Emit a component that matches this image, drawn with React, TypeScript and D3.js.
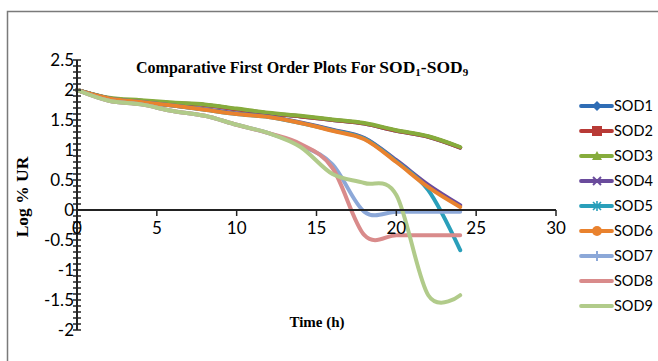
import React from "react";
import * as d3 from "d3";

const times = [0, 2, 4, 6, 8, 10, 12, 14, 16, 18, 20, 22, 24];
const seriesNames = ["SOD1", "SOD2", "SOD3", "SOD4", "SOD5", "SOD6", "SOD7", "SOD8", "SOD9"];
const sod1 = [2.0, 1.86, 1.82, 1.78, 1.75, 1.68, 1.61, 1.56, 1.5, 1.44, 1.32, 1.22, 1.04];
const sod2 = [2.0, 1.86, 1.82, 1.78, 1.75, 1.68, 1.61, 1.56, 1.5, 1.44, 1.32, 1.22, 1.04];
const sod3 = [2.0, 1.87, 1.83, 1.79, 1.76, 1.69, 1.62, 1.57, 1.51, 1.45, 1.33, 1.23, 1.05];
const sod4 = [2.0, 1.86, 1.8, 1.74, 1.68, 1.61, 1.56, 1.46, 1.34, 1.2, 0.83, 0.42, 0.08];
const sod5 = [2.0, 1.86, 1.8, 1.74, 1.67, 1.6, 1.55, 1.45, 1.33, 1.19, 0.81, 0.33, -0.67];
const sod6 = [2.0, 1.86, 1.8, 1.74, 1.67, 1.6, 1.55, 1.45, 1.32, 1.18, 0.8, 0.38, 0.05];
const sod7 = [2.0, 1.82, 1.76, 1.65, 1.57, 1.42, 1.28, 1.08, 0.76, -0.03, -0.03, -0.03, -0.03];
const sod8 = [2.0, 1.82, 1.76, 1.65, 1.57, 1.42, 1.28, 1.1, 0.7, -0.42, -0.42, -0.42, -0.42];
const sod9 = [2.0, 1.82, 1.76, 1.65, 1.57, 1.42, 1.28, 1.05, 0.6, 0.45, 0.25, -1.42, -1.42];
const seriesValues = [sod1, sod2, sod3, sod4, sod5, sod6, sod7, sod8, sod9];
const colors = ["#2F6DB5", "#B83A36", "#86AC3C", "#6A4B9C", "#2A9FBA", "#E9822E", "#8CA8D8", "#D98B8B", "#B1CB8A"];
const markers = ["diamond", "square", "triangle", "x", "star", "circle", "plus", "none", "none"];
const xTicks = [0, 5, 10, 15, 20, 25, 30];
const yTicks = [2.5, 2, 1.5, 1, 0.5, 0, -0.5, -1, -1.5, -2];

const W = 658;
const H = 361;
const x = d3.scaleLinear().domain([0, 30]).range([77, 556]);
const y = d3.scaleLinear().domain([-2, 2.5]).range([330, 60]);

function Marker({ type, cx, cy, color }: { type: string; cx: number; cy: number; color: string }) {
  const s = 5;
  switch (type) {
    case "diamond":
      return <path d={`M${cx},${cy - s} L${cx + s},${cy} L${cx},${cy + s} L${cx - s},${cy} Z`} fill={color} />;
    case "square":
      return <rect x={cx - 5} y={cy - 5} width={10} height={10} fill={color} />;
    case "triangle":
      return <path d={`M${cx},${cy - 5} L${cx + 5},${cy + 4} L${cx - 5},${cy + 4} Z`} fill={color} />;
    case "x":
      return (
        <g stroke={color} strokeWidth={2}>
          <line x1={cx - 4} y1={cy - 4} x2={cx + 4} y2={cy + 4} />
          <line x1={cx - 4} y1={cy + 4} x2={cx + 4} y2={cy - 4} />
        </g>
      );
    case "star":
      return (
        <g stroke={color} strokeWidth={1.6}>
          <line x1={cx - 4} y1={cy - 4} x2={cx + 4} y2={cy + 4} />
          <line x1={cx - 4} y1={cy + 4} x2={cx + 4} y2={cy - 4} />
          <line x1={cx} y1={cy - 5} x2={cx} y2={cy + 5} />
        </g>
      );
    case "circle":
      return <circle cx={cx} cy={cy} r={5} fill={color} />;
    case "plus":
      return <line x1={cx} y1={cy - 5} x2={cx} y2={cy + 5} stroke={color} strokeWidth={2} />;
    default:
      return null;
  }
}

export default function App() {
  const line = d3
    .line<number>()
    .x((_, i) => x(times[i]))
    .y((v) => y(v))
    .curve(d3.curveCardinal.tension(0));

  const minorTicks = d3.range(-20, 26).map((v) => v / 10);

  return (
    <svg width={W} height={H} style={{ position: "absolute", left: 0, top: 0, background: "#fff" }}>
      <rect x={0} y={0} width={W} height={H} fill="#fff" />
      <path d={`M7.5,${H} L7.5,11.5 L${W},11.5`} fill="none" stroke="#7a7a7a" strokeWidth={1.5} />

      {/* title */}
      <text x={136} y={73} fontFamily="Liberation Serif" fontWeight="bold" fill="#000">
        <tspan fontSize={16}>Comparative First Order Plots For </tspan>
        <tspan fontSize={17.5}>SOD</tspan>
        <tspan fontSize={11} dy={3}>1</tspan>
        <tspan fontSize={17.5} dy={-3}>-SOD</tspan>
        <tspan fontSize={11} dy={3}>9</tspan>
      </text>

      {/* series */}
      {seriesValues.map((vals, i) => (
        <path key={seriesNames[i]} d={line(vals) || ""} fill="none" stroke={colors[i]} strokeWidth={4} strokeLinecap="round" strokeLinejoin="round" />
      ))}

      {/* y axis */}
      <line x1={x(0)} y1={y(2.5)} x2={x(0)} y2={y(-2)} stroke="#222" strokeWidth={2} />
      {minorTicks.map((v) => (
        <line key={"m" + v} x1={x(0) - 4} x2={x(0) + 4} y1={y(v)} y2={y(v)} stroke="#222" strokeWidth={1.5} />
      ))}
      {yTicks.map((v) => (
        <text key={"yl" + v} x={74} y={y(v) + 6} textAnchor="end" fontFamily="Lato" fontSize={17} fill="#000">
          {String(v)}
        </text>
      ))}

      {/* x axis */}
      <line x1={x(0)} y1={y(0)} x2={x(30)} y2={y(0)} stroke="#222" strokeWidth={2} />
      {xTicks.map((v) => (
        <line key={"xt" + v} x1={x(v)} x2={x(v)} y1={y(0)} y2={y(0) + 6} stroke="#222" strokeWidth={1.5} />
      ))}
      {xTicks.map((v) => (
        <text key={"xl" + v} x={x(v)} y={y(0) + 24} textAnchor="middle" fontFamily="Lato" fontSize={17} fill="#000">
          {String(v)}
        </text>
      ))}

      {/* axis titles */}
      <text
        transform={`translate(28,${197}) rotate(-90)`}
        textAnchor="middle"
        fontFamily="Liberation Serif"
        fontWeight="bold"
        fontSize={17.5}
        fill="#000"
      >
        Log % UR
      </text>
      <text x={317} y={327} textAnchor="middle" fontFamily="Liberation Serif" fontWeight="bold" fontSize={15} fill="#000">
        Time (h)
      </text>

      {/* legend */}
      {seriesNames.map((name, i) => {
        const ly = 106 + i * 25;
        return (
          <g key={"lg" + name}>
            <line x1={581} x2={612} y1={ly} y2={ly} stroke={colors[i]} strokeWidth={3.8} strokeLinecap="round" />
            <Marker type={markers[i]} cx={597} cy={ly} color={colors[i]} />
            <text x={614} y={ly + 5} fontFamily="Lato" fontSize={14.5} fill="#000">
              {name}
            </text>
          </g>
        );
      })}
    </svg>
  );
}
